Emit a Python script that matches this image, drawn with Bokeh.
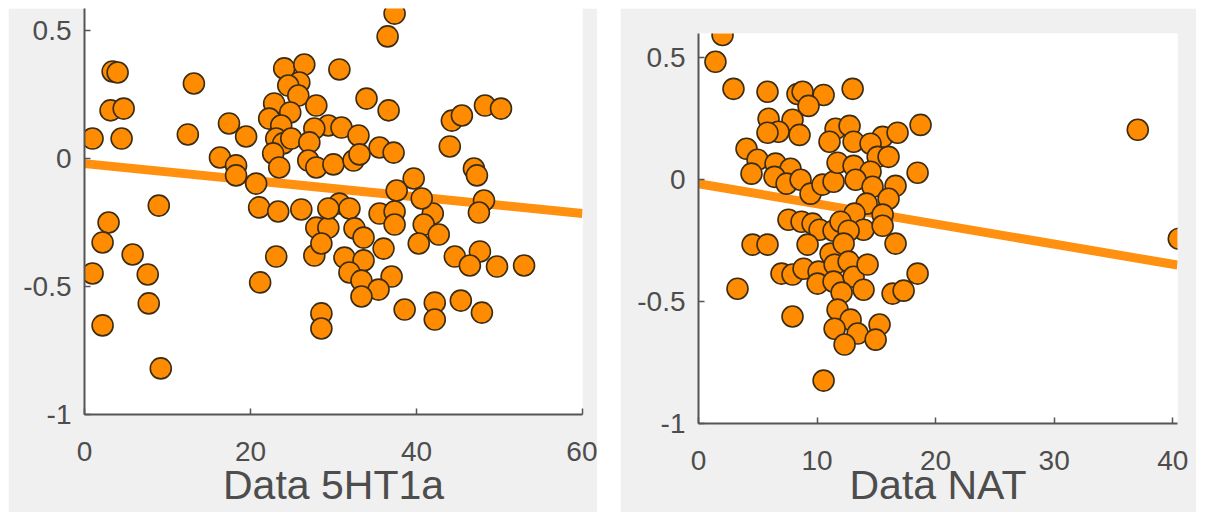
from bokeh.plotting import figure
from bokeh.layouts import row, column
from bokeh.models import Range1d, FixedTicker, Spacer
from bokeh.embed import file_html
from bokeh.resources import INLINE

# ---- data: left panel (5HT1a) ----
left_x = [0.97, 3.39, 3.99, 3.14, 4.72, 4.47, 13.18, 12.45, 17.41, 19.47, 16.32, 18.26, 18.26, 20.68,
          8.95, 2.90, 2.18, 5.80, 0.97, 7.62, 7.74, 2.18, 9.19, 21.16, 23.10, 21.04, 23.34, 26.12,
          24.06, 26.48, 30.71, 25.88, 24.55, 25.76, 22.85, 24.79, 27.93, 22.25, 23.70, 29.38, 30.96,
          27.69, 33.98, 33.01, 23.10, 23.94, 24.91, 27.09, 22.73, 23.46, 26.96, 27.93, 29.99, 32.41,
          33.13, 37.36, 36.52, 36.64, 35.55, 37.24, 39.66, 37.61, 44.26, 45.47, 48.25, 50.18, 44.01,
          46.92, 47.28, 48.13, 47.52, 30.71, 31.92, 35.55, 37.36, 41.96, 40.63, 27.93, 29.38, 32.53,
          33.62, 37.36, 40.87, 42.68, 40.27, 36.03, 27.69, 31.32, 33.62, 44.62, 47.64, 46.43, 49.70,
          52.96, 31.92, 33.37, 37.00, 35.43, 33.37, 38.57, 42.20, 42.20, 45.34, 47.88, 28.54, 28.54,
          28.54, 29.38]
left_y = [0.078, 0.340, 0.336, 0.188, 0.195, 0.078, 0.293, 0.094, 0.137, 0.086, 0.004, -0.027, -0.066,
          -0.098, -0.184, -0.250, -0.328, -0.375, -0.449, -0.453, -0.566, -0.652, -0.820, -0.484,
          -0.383, -0.191, -0.207, -0.199, 0.352, 0.367, 0.348, 0.297, 0.285, 0.246, 0.215, 0.180,
          0.207, 0.156, 0.129, 0.129, 0.121, 0.117, 0.234, 0.090, 0.078, 0.059, 0.078, 0.063, 0.020,
          -0.035, -0.008, -0.035, -0.023, -0.008, 0.016, 0.566, 0.477, 0.188, 0.043, 0.023, -0.078,
          -0.125, 0.148, 0.168, 0.207, 0.195, 0.047, -0.039, -0.066, -0.164, -0.211, -0.176, -0.195,
          -0.215, -0.207, -0.215, -0.156, -0.270, -0.270, -0.273, -0.309, -0.258, -0.258, -0.297,
          -0.332, -0.352, -0.379, -0.387, -0.398, -0.383, -0.363, -0.418, -0.422, -0.418, -0.445,
          -0.477, -0.461, -0.512, -0.539, -0.590, -0.563, -0.629, -0.555, -0.602, -0.605, -0.664,
          -0.332, -0.195]
left_fit_x = [0, 60]
left_fit_y = [-0.02, -0.215]

# ---- data: right panel (NAT) ----
right_x = [2.03, 1.43, 2.95, 5.82, 8.35, 8.78, 10.55, 13.00, 9.28, 5.91, 7.93, 6.75, 8.52, 5.82, 11.56,
           12.74, 13.08, 11.05, 15.53, 16.79, 18.73, 14.51, 15.11, 16.03, 4.05, 4.98, 4.47, 6.50,
           7.76, 6.41, 7.43, 8.61, 9.45, 10.46, 11.39, 11.73, 13.08, 14.51, 13.25, 14.68, 16.62,
           16.03, 18.48, 14.18, 15.53, 13.16, 13.92, 15.53, 7.59, 8.69, 9.62, 10.21, 11.39, 11.98,
           12.66, 9.20, 4.56, 5.82, 11.14, 12.24, 16.62, 7.00, 7.93, 8.86, 10.13, 10.04, 11.48, 11.39,
           12.66, 13.08, 14.26, 13.92, 12.07, 11.73, 12.83, 11.48, 13.42, 12.32, 15.27, 14.94, 18.48,
           16.37, 17.30, 3.29, 7.93, 10.55, 37.05, 40.51]
right_y = [0.594, 0.484, 0.373, 0.361, 0.352, 0.361, 0.348, 0.373, 0.303, 0.250, 0.246, 0.197, 0.184,
           0.193, 0.209, 0.221, 0.156, 0.156, 0.176, 0.193, 0.225, 0.148, 0.094, 0.094, 0.127, 0.082,
           0.025, 0.066, 0.045, 0.012, -0.016, 0.000, -0.057, -0.020, -0.008, 0.070, 0.057, 0.033,
           0.000, -0.029, -0.025, -0.078, 0.029, -0.098, -0.143, -0.139, -0.205, -0.189, -0.164,
           -0.172, -0.180, -0.205, -0.209, -0.172, -0.209, -0.266, -0.266, -0.266, -0.303, -0.262,
           -0.262, -0.385, -0.389, -0.365, -0.377, -0.426, -0.348, -0.418, -0.336, -0.398, -0.348,
           -0.451, -0.463, -0.533, -0.574, -0.611, -0.631, -0.676, -0.594, -0.656, -0.385, -0.467,
           -0.455, -0.447, -0.561, -0.824, 0.205, -0.242]
right_fit_x = [0, 40.4]
right_fit_y = [-0.016, -0.35]

left_xticks = [0, 20, 40, 60]
right_xticks = [0, 10, 20, 30, 40]
yticks = [-1, -0.5, 0, 0.5]
ytick_labels = {-1: "-1", -0.5: "-0.5", 0: "0", 0.5: "0.5"}

FONT = "Liberation Sans"
TXT = "#4d4d4d"
BG = "#f0f0f0"
FILL = "#ff8c00"
EDGE = "#3b2c14"
LINEC = "#ff9010"


def make_panel(xs, ys, fx, fy, xr, yr, xticks, label, width, height, borders, tick_std, lab_std):
    p = figure(width=width, height=height, x_range=Range1d(*xr), y_range=Range1d(*yr),
               output_backend="svg", toolbar_location=None, title=None,
               min_border_left=borders[0], min_border_right=borders[1],
               min_border_top=borders[2], min_border_bottom=borders[3],
               x_axis_label=label)
    p.background_fill_color = "white"
    p.border_fill_color = BG
    p.outline_line_color = None
    p.xgrid.visible = False
    p.ygrid.visible = False
    p.line(fx, fy, line_color=LINEC, line_width=9)
    p.scatter(xs, ys, size=21, fill_color=FILL, line_color=EDGE, line_width=1.6)

    xa = p.xaxis[0]
    xa.ticker = FixedTicker(ticks=xticks)
    xa.minor_tick_line_color = None
    xa.major_tick_in = 6
    xa.major_tick_out = 0
    xa.major_label_standoff = tick_std
    xa.axis_label_standoff = lab_std
    xa.axis_label_text_font = FONT
    xa.axis_label_text_font_size = "41px"
    xa.axis_label_text_font_style = "normal"
    xa.axis_label_text_color = TXT

    ya = p.yaxis[0]
    ya.ticker = FixedTicker(ticks=yticks)
    ya.major_label_overrides = ytick_labels
    ya.minor_tick_line_color = None
    ya.major_tick_in = 6
    ya.major_tick_out = 0
    ya.major_label_standoff = 13

    for a in (xa, ya):
        a.axis_line_color = "#555555"
        a.axis_line_width = 2
        a.major_tick_line_color = "#555555"
        a.major_tick_line_width = 1.5
        a.major_label_text_font = FONT
        a.major_label_text_font_size = "28px"
        a.major_label_text_color = TXT
    return p


left = make_panel(left_x, left_y, left_fit_x, left_fit_y, (0, 60), (-1, 0.586),
                  left_xticks, "Data 5HT1a", 589, 504, (76, 15, 0, 98), 27, -2)
right = make_panel(right_x, right_y, right_fit_x, right_fit_y, (0, 40.4), (-1, 0.6),
                   right_xticks, "Data NAT", 576, 504, (78, 19, 25, 89), 27, -11)

layout = column(Spacer(height=8),
                row(Spacer(width=8), column(left), Spacer(width=23), column(right), spacing=0),
                spacing=0)
open("out.html", "w").write(file_html(layout, INLINE))
